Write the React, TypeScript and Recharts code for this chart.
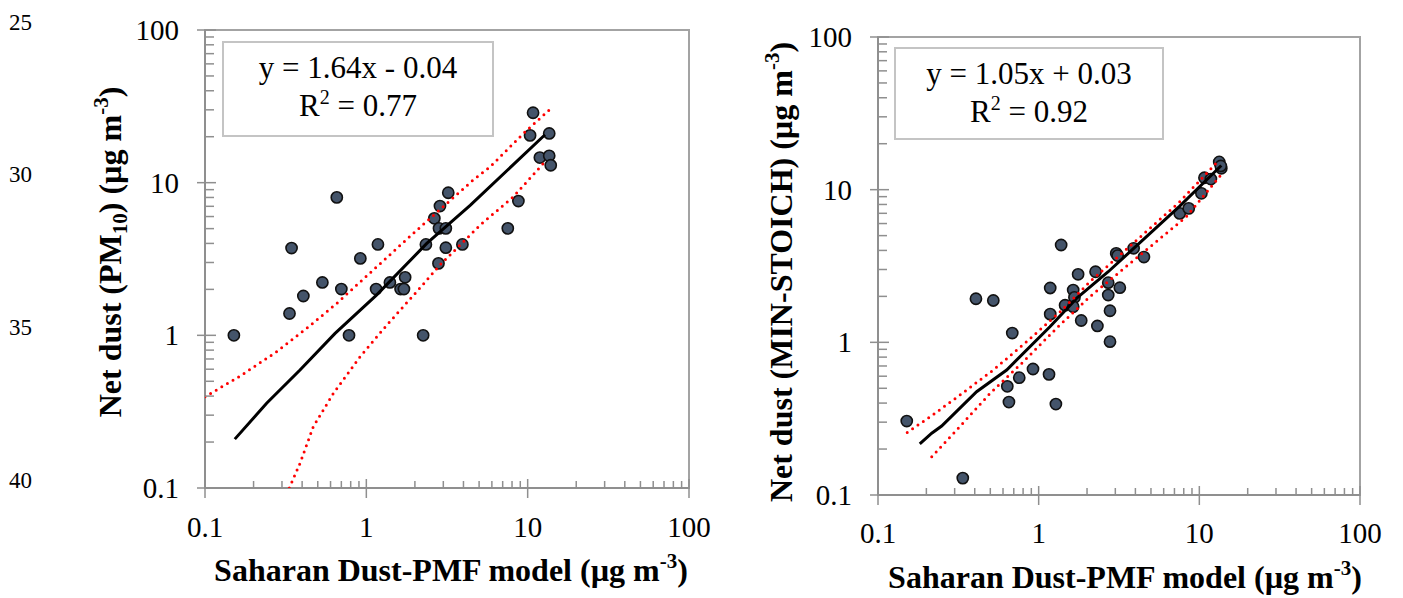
import React from "react";
import { ScatterChart, Scatter, XAxis, YAxis, ReferenceArea } from "recharts";

// log axis ticks, shared by both panels
const majorTicks = [0.1, 1, 10, 100];
const majorLabels = ["0.1", "1", "10", "100"];
const minorTicks = [
  0.2, 0.3, 0.4, 0.5, 0.6, 0.7, 0.8, 0.9,
  2, 3, 4, 5, 6, 7, 8, 9,
  20, 30, 40, 50, 60, 70, 80, 90,
];
const allTicks = [...majorTicks, ...minorTicks].sort((a, b) => a - b);

// left panel: Net dust (PM10) vs Saharan dust PMF
const pm10X = [
  0.151, 0.344, 0.334, 0.407, 0.534, 0.656, 0.7, 0.781, 0.918, 1.15, 1.18,
  1.4, 1.63, 1.71, 1.74, 2.34, 2.25, 2.64, 2.82, 2.8, 2.86, 3.11, 3.11, 3.22,
  3.94, 7.53, 8.76, 10.35, 10.8, 11.9, 13.6, 13.6, 13.9,
];
const pm10Y = [
  1.0, 3.73, 1.39, 1.81, 2.22, 8.01, 2.01, 1.0, 3.19, 2.01, 3.94,
  2.22, 2.01, 2.01, 2.4, 3.94, 1.0, 5.84, 5.02, 2.96, 7.03, 5.02, 3.75, 8.59,
  3.94, 5.02, 7.58, 20.4, 28.7, 14.6, 21.0, 15.0, 13.0,
];
const pm10FitX = [0.153, 0.241, 0.388, 0.64, 1.16, 2.37, 4.4, 12.8];
const pm10FitY = [0.209, 0.359, 0.593, 1.03, 1.84, 4.0, 7.1, 20.6];
const pm10UpperX = [0.1, 0.165, 0.278, 0.427, 0.656, 1.956, 4.59, 5.85, 9.41, 13.6];
const pm10UpperY = [0.396, 0.541, 0.781, 1.111, 1.621, 4.66, 10.4, 12.7, 21.0, 29.9];
const pm10LowerX = [0.333, 0.388, 0.469, 0.625, 0.914, 1.34, 2.05, 2.86, 4.4, 5.07, 8.15, 13.1];
const pm10LowerY = [0.1, 0.145, 0.252, 0.417, 0.724, 1.168, 1.93, 2.89, 4.54, 5.27, 8.09, 14.1];

// right panel: Net dust (MIN-STOICH) vs Saharan dust PMF
const stoichX = [
  0.151, 0.337, 0.407, 0.522, 0.685, 0.638, 0.653, 0.757, 0.922, 1.16, 1.28,
  1.18, 1.18, 1.38, 1.46, 1.64, 1.67, 1.64, 1.76, 1.84, 2.26, 2.32, 2.71,
  2.71, 2.78, 2.78, 3.04, 3.1, 3.2, 3.9, 4.52, 7.55, 8.59, 10.3, 10.76, 11.8,
  13.3, 13.7, 13.6,
];
const stoichY = [
  0.305, 0.129, 1.93, 1.88, 1.15, 0.515, 0.406, 0.587, 0.669, 0.617, 0.394,
  1.53, 2.27, 4.34, 1.75, 2.2, 1.97, 1.71, 2.79, 1.39, 2.9, 1.28, 2.46,
  2.04, 1.61, 1.01, 3.83, 3.7, 2.28, 4.13, 3.62, 6.99, 7.54, 9.46, 11.97, 11.73,
  15.2, 13.8, 14.3,
];
const stoichFitX = [0.182, 0.216, 0.249, 0.411, 0.632, 1.175, 1.72, 2.71, 7.55, 13.7];
const stoichFitY = [0.216, 0.254, 0.283, 0.475, 0.659, 1.265, 1.94, 2.9, 7.8, 14.4];
const stoichUpperX = [0.152, 0.216, 0.324, 0.522, 0.841, 1.36, 2.08, 7.55, 13.4];
const stoichUpperY = [0.257, 0.331, 0.452, 0.659, 1.01, 1.585, 2.49, 8.33, 15.8];
const stoichLowerX = [0.216, 0.309, 0.498, 0.802, 1.29, 2.08, 8.3, 13.9];
const stoichLowerY = [0.178, 0.267, 0.463, 0.746, 1.235, 1.99, 6.65, 12.8];

const SERIF = "'Liberation Serif', 'Times New Roman', serif";
const AXIS = "#8f8f8f";
const MARKER = "#44546a";

const toPts = (xs: number[], ys: number[]) => xs.map((x, i) => ({ x, y: ys[i] }));

function XTick(props: any) {
  const { x, y, payload, labelDy } = props;
  const i = majorTicks.indexOf(payload.value);
  if (i < 0) {
    return <line x1={x} x2={x} y1={y - 7} y2={y} stroke={AXIS} strokeWidth={1.5} />;
  }
  return (
    <g>
      <line x1={x} x2={x} y1={y - 9} y2={y + 10} stroke={AXIS} strokeWidth={1.5} />
      <text x={x} y={y + labelDy} textAnchor="middle" fontFamily={SERIF} fontSize={29} fill="#000">
        {majorLabels[i]}
      </text>
    </g>
  );
}

function YTick(props: any) {
  const { x, y, payload } = props;
  const i = majorTicks.indexOf(payload.value);
  if (i < 0) {
    return <line x1={x} x2={x + 9} y1={y} y2={y} stroke={AXIS} strokeWidth={1.5} />;
  }
  return (
    <g>
      <line x1={x - 8} x2={x + 11} y1={y} y2={y} stroke={AXIS} strokeWidth={1.5} />
      <text x={x - 26} y={y + 10} textAnchor="end" fontFamily={SERIF} fontSize={29} fill="#000">
        {majorLabels[i]}
      </text>
    </g>
  );
}

const dot = (p: any) => (
  <circle cx={p.cx} cy={p.cy} r={5.6} fill={MARKER} stroke="#111" strokeWidth={1.6} />
);
const noDot = () => <g />;

interface PanelProps {
  left: number;
  width: number;
  margin: { top: number; right: number; left: number; bottom: number };
  yAxisWidth: number;
  xAxisHeight: number;
  labelDy: number;
  points: { x: number; y: number }[];
  fit: { x: number; y: number }[];
  upper: { x: number; y: number }[];
  lower: { x: number; y: number }[];
}

function Panel({ left, width, margin, yAxisWidth, xAxisHeight, labelDy, points, fit, upper, lower }: PanelProps) {
  const red = { stroke: "#ff0000", strokeWidth: 3, strokeDasharray: "0 6.5", strokeLinecap: "round" as const };
  return (
    <div style={{ position: "absolute", left, top: 0 }}>
      <ScatterChart width={width} height={598} margin={margin}>
        <XAxis
          dataKey="x"
          type="number"
          scale="log"
          domain={[0.1, 100]}
          allowDataOverflow
          ticks={allTicks}
          interval={0}
          tickSize={0}
          tickMargin={0}
          tickLine={false}
          height={xAxisHeight}
          axisLine={{ stroke: AXIS, strokeWidth: 2 }}
          tick={(p: any) => <XTick {...p} labelDy={labelDy} />}
        />
        <YAxis
          dataKey="y"
          type="number"
          scale="log"
          domain={[0.1, 100]}
          allowDataOverflow
          ticks={allTicks}
          interval={0}
          tickSize={0}
          tickMargin={0}
          tickLine={false}
          width={yAxisWidth}
          axisLine={{ stroke: AXIS, strokeWidth: 2 }}
          tick={(p: any) => <YTick {...p} />}
        />
        <ReferenceArea x1={0.1} x2={100} y1={0.1} y2={100} fill="none" stroke="#a3a3a3" strokeWidth={2} />
        <Scatter data={points} shape={dot} isAnimationActive={false} />
        <Scatter data={fit} shape={noDot} line={{ stroke: "#000", strokeWidth: 3 }} isAnimationActive={false} />
        <Scatter data={upper} shape={noDot} line={red} isAnimationActive={false} />
        <Scatter data={lower} shape={noDot} line={red} isAnimationActive={false} />
      </ScatterChart>
    </div>
  );
}

export default function App() {
  const t = { fontFamily: SERIF, fill: "#000" };
  return (
    <div style={{ position: "absolute", left: 0, top: 0, width: 1403, height: 598, background: "#fff" }}>
      <Panel
        left={0}
        width={720}
        margin={{ top: 30, right: 31, left: 0, bottom: 0 }}
        yAxisWidth={205}
        xAxisHeight={110}
        labelDy={49}
        points={toPts(pm10X, pm10Y)}
        fit={toPts(pm10FitX, pm10FitY)}
        upper={toPts(pm10UpperX, pm10UpperY)}
        lower={toPts(pm10LowerX, pm10LowerY)}
      />
      <Panel
        left={700}
        width={703}
        margin={{ top: 37, right: 43, left: 0, bottom: 0 }}
        yAxisWidth={178}
        xAxisHeight={103}
        labelDy={48}
        points={toPts(stoichX, stoichY)}
        fit={toPts(stoichFitX, stoichFitY)}
        upper={toPts(stoichUpperX, stoichUpperY)}
        lower={toPts(stoichLowerX, stoichLowerY)}
      />
      <svg width={1403} height={598} style={{ position: "absolute", left: 0, top: 0, pointerEvents: "none" }}>
        {/* manuscript line numbers */}
        <text x={9} y={30} fontSize={23} {...t}>25</text>
        <text x={9} y={182} fontSize={23} {...t}>30</text>
        <text x={9} y={335} fontSize={23} {...t}>35</text>
        <text x={9} y={488} fontSize={23} {...t}>40</text>

        {/* left panel text */}
        <rect x={223} y={42} width={270} height={94} fill="#fff" stroke="#c4c4c4" strokeWidth={2} />
        <text x={358} y={78} fontSize={31} textAnchor="middle" {...t}>y = 1.64x - 0.04</text>
        <text x={358} y={116} fontSize={31} textAnchor="middle" {...t}>
          R<tspan fontSize={20} dy={-12}>2</tspan><tspan dy={12}> = 0.77</tspan>
        </text>
        <text x={451} y={581} fontSize={32} fontWeight="bold" textAnchor="middle" {...t}>
          Saharan Dust-PMF model (µg m<tspan fontSize={21} dy={-13}>-3</tspan><tspan dy={13}>)</tspan>
        </text>
        <text transform="translate(121,252) rotate(-90)" fontSize={32} fontWeight="bold" textAnchor="middle" {...t}>
          Net dust (PM<tspan fontSize={21} dy={6}>10</tspan><tspan dy={-6}>) (µg m</tspan>
          <tspan fontSize={21} dy={-13}>-3</tspan><tspan dy={13}>)</tspan>
        </text>

        {/* right panel text */}
        <rect x={895} y={48} width={268} height={91} fill="#fff" stroke="#c4c4c4" strokeWidth={2} />
        <text x={1029} y={84} fontSize={31} textAnchor="middle" {...t}>y = 1.05x + 0.03</text>
        <text x={1029} y={122} fontSize={31} textAnchor="middle" {...t}>
          R<tspan fontSize={20} dy={-12}>2</tspan><tspan dy={12}> = 0.92</tspan>
        </text>
        <text x={1125} y={588} fontSize={32} fontWeight="bold" textAnchor="middle" {...t}>
          Saharan Dust-PMF model (µg m<tspan fontSize={21} dy={-13}>-3</tspan><tspan dy={13}>)</tspan>
        </text>
        <text transform="translate(792,272) rotate(-90)" fontSize={32} fontWeight="bold" textAnchor="middle" {...t}>
          Net dust (MIN-STOICH) (µg m<tspan fontSize={21} dy={-13}>-3</tspan><tspan dy={13}>)</tspan>
        </text>
      </svg>
    </div>
  );
}
